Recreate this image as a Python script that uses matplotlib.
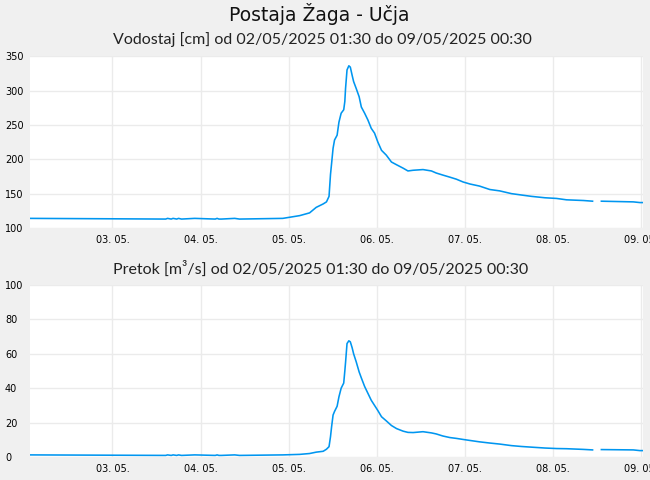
import matplotlib
matplotlib.use('Agg')
import matplotlib.pyplot as plt
import matplotlib.dates as mdates
import numpy as np
import pandas as pd

################################################################################################
# data (hours after 03.05.2025 00:00)

hours = [-22.5, 14.5, 15.0, 16.0, 16.5, 17.5, 18.0, 18.8, 22.4, 28.0, 28.5, 29.0, 29.7, 33.3,
         34.6, 46.4, 51.0, 53.7, 55.5, 57.4, 58.3, 59.0, 59.4, 59.7, 60.1, 60.5, 61.2, 61.7,
         62.3, 63.0, 63.3, 63.5, 63.9, 64.4, 64.8, 65.3, 65.7, 66.4, 67.2, 67.8, 68.7, 69.6,
         70.5, 71.4, 72.3, 73.3, 74.6, 76.0, 77.4, 79.2, 80.5, 81.9, 84.6, 86.9, 88.2, 90.0,
         91.9, 93.7, 95.5, 97.4, 100.0, 102.8, 105.5, 108.7, 111.4, 114.2, 117.8, 121.0, 123.7,
         128.3, 130.8, 131.0, 133.2, 141.9, 143.7, 144.5]

vodostaj = [114, 113, 114, 113, 114, 113, 114, 113, 114, 113, 114, 113, 113, 114,
            113, 114, 118, 122, 130, 135, 138, 146, 178, 194, 216, 228, 235, 254,
            267, 272, 284, 303, 330, 336, 334, 322, 313, 303, 291, 276, 267, 257,
            245, 238, 225, 213, 206, 196, 192, 187, 183, 184, 185, 183, 180, 177,
            174, 171, 167, 164, 161, 156, 154, 150, 148, 146, 144, 143, 141,
            140, 139, np.nan, 139, 138, 137, 137]

pretok = [1.2, 0.9, 1.2, 0.9, 1.2, 0.9, 1.2, 0.9, 1.2, 0.9, 1.2, 0.9, 0.9, 1.2,
          0.9, 1.2, 1.5, 2.0, 2.8, 3.3, 4.5, 6.0, 11.8, 17.6, 24.4, 26.5, 29.5, 35.0,
          40.0, 43.0, 50.0, 55.0, 66.0, 67.6, 67.0, 63.5, 60.0, 55.4, 49.5, 46.0, 41.0, 37.0,
          33.0, 30.0, 27.0, 23.4, 21.0, 18.3, 16.5, 15.0, 14.3, 14.2, 14.7, 14.0, 13.4, 12.2,
          11.3, 10.8, 10.2, 9.6, 8.8, 8.1, 7.5, 6.6, 6.1, 5.7, 5.2, 4.9, 4.8,
          4.4, 4.1, np.nan, 4.3, 4.1, 3.7, 3.7]

################################################################################################

base = pd.Timestamp('2025-05-03 00:00')
times = base + pd.to_timedelta(hours, unit='h')
t_start = pd.Timestamp('2025-05-02 01:30')
t_end = pd.Timestamp('2025-05-09 00:30')

line_color = '#0096f0'
bg_color = '#f0f0f0'
grid_color = '#ebebeb'

fig = plt.figure(figsize=(6.5, 4.8), dpi=100, facecolor=bg_color)
ax1 = fig.add_axes([0.046, 0.525, 0.943, 0.358])
ax2 = fig.add_axes([0.046, 0.048, 0.943, 0.358])

fig.text(0.491, 0.971, 'Postaja Žaga - Učja', ha='center', va='center', fontsize=13.5,
         family='DejaVu Sans', color='#111111')
fig.text(0.496, 0.917, 'Vodostaj [cm] od 02/05/2025 01:30 do 09/05/2025 00:30', ha='center',
         va='center', fontsize=11.5, family='Lato', color='#222222')
fig.text(0.493, 0.44, 'Pretok [m³/s] od 02/05/2025 01:30 do 09/05/2025 00:30', ha='center',
         va='center', fontsize=11.5, family='Lato', color='#222222')

for ax, values, ylim, yticks in [(ax1, vodostaj, (100, 350), np.arange(100, 351, 50)),
                                 (ax2, pretok, (0, 100), np.arange(0, 101, 20))]:
    ax.set_facecolor('white')
    ax.plot(times, values, color=line_color, linewidth=1.15)
    ax.set_xlim(t_start, t_end)
    ax.set_ylim(*ylim)
    ax.set_yticks(yticks)
    ax.xaxis.set_major_locator(mdates.DayLocator())
    ax.xaxis.set_major_formatter(mdates.DateFormatter('%d. %m.'))
    ax.grid(True, color=grid_color, linewidth=1)
    ax.set_axisbelow(True)
    for s in ax.spines.values():
        s.set_visible(False)
    ax.tick_params(axis='both', length=0, labelsize=7)
    ax.tick_params(axis='y', pad=18)
    ax.tick_params(axis='x', pad=5)
    for lbl in ax.get_yticklabels():
        lbl.set_horizontalalignment('left')

fig.savefig('out.png', dpi=100, facecolor=bg_color)
plt.close(fig)
